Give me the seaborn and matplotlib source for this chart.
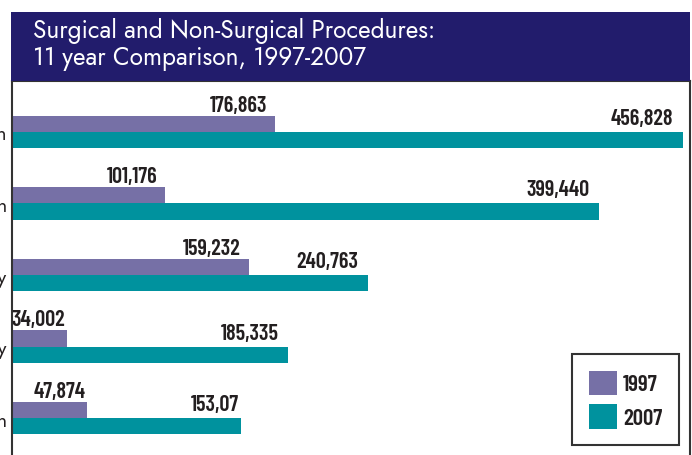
import matplotlib
matplotlib.use("Agg")
import matplotlib.pyplot as plt
from matplotlib.patches import Rectangle, Patch
import seaborn as sns
import pandas as pd

# ---- data ----
procedures = ["Liposuction", "Breast Augmentation", "Blepharoplasty",
              "Abdominoplasty", "Breast Reduction"]
years = ["1997", "2007"]
values_1997 = [176863, 101176, 159232, 34002, 47874]
values_2007 = [456828, 399440, 240763, 185335, 153087]
labels_1997 = ["176,863", "101,176", "159,232", "34,002", "47,874"]
labels_2007 = ["456,828", "399,440", "240,763", "185,335", "153,07"]
title_lines = ["Surgical and Non-Surgical Procedures:",
               "11 year Comparison, 1997-2007"]

# ---- style ----
PURPLE = "#7670a6"
TEAL = "#00929e"
NAVY = "#221c6c"
INK = "#231f20"
LINE = "#333333"
# gap (pixels) between the end of each bar and the right edge of its label
label_gap_1997 = [8, 7, 9, 2, 2]
label_gap_2007 = [10, 10, 10, 9, 2]

sns.set_theme(style="white")
plt.rcParams["font.family"] = ["DejaVu Sans"]
TITLE_FONT = ["Jost", "DejaVu Sans"]
NUM_FONT = ["Barlow Condensed", "DejaVu Sans"]

df = pd.DataFrame({
    "procedure": procedures * 2,
    "count": values_1997 + values_2007,
    "year": [years[0]] * len(procedures) + [years[1]] * len(procedures),
})

W, H = 692, 456
fig = plt.figure(figsize=(W / 100, H / 100), dpi=100)
fig.patch.set_facecolor("white")

ax_left, ax_right, ax_top = 12, 690, 82
ax = fig.add_axes([ax_left / W, 0, (ax_right - ax_left) / W, (H - ax_top) / H])

sns.barplot(data=df, y="procedure", x="count", hue="year", order=procedures,
            hue_order=years, palette=[PURPLE, TEAL], orient="h", width=0.45,
            saturation=1, legend=False, ax=ax, linewidth=0)

xmin, xmax = -3775, 461597
ax.set_xlim(xmin, xmax)
ax.set_ylim(4.517, -0.713)
px = (xmax - xmin) / (ax_right - ax_left)  # data units per pixel

# bars start just right of the spine
bars = list(ax.patches)
start = -4.5 * px
for p in bars:
    w = p.get_width()
    p.set_x(start)
    p.set_width(w - start)

# value labels
n = len(procedures)
bars_1997 = sorted(bars[:n], key=lambda p: p.get_y())
bars_2007 = sorted(bars[n:], key=lambda p: p.get_y())
for blist, labs, gaps, rise in [(bars_1997, labels_1997, label_gap_1997, 5),
                                (bars_2007, labels_2007, label_gap_2007, 8)]:
    for p, lab, g in zip(blist, labs, gaps):
        ax.annotate(lab, (p.get_x() + p.get_width(), p.get_y()), xytext=(-g, rise),
                    textcoords="offset pixels", ha="right", va="baseline",
                    fontsize=16, fontweight=600, family=NUM_FONT, color=INK)

ax.set_xlabel("")
ax.set_ylabel("")
ax.set_xticks([])
ax.tick_params(axis="y", length=0, pad=3.6, labelcolor=INK)
for t in ax.get_yticklabels():
    t.set_fontfamily(TITLE_FONT)
    t.set_fontsize(14)
for s in ["left", "right", "top"]:
    ax.spines[s].set_visible(True)
    ax.spines[s].set_color(LINE)
    ax.spines[s].set_linewidth(1.5)
ax.spines["bottom"].set_visible(False)

# title banner
fig.patches.append(Rectangle((11 / W, 1 - 82 / H), (690 - 11) / W, (82 - 13) / H,
                             transform=fig.transFigure, facecolor=NAVY,
                             edgecolor="none", zorder=0))
for txt, base in zip(title_lines, [37.5, 65]):
    fig.text(33 / W, 1 - base / H, txt, color="white", fontsize=17.5,
             fontweight=300, family=TITLE_FONT, va="baseline", ha="left")

# legend
handles = [Patch(facecolor=PURPLE, edgecolor="none"),
           Patch(facecolor=TEAL, edgecolor="none")]
leg = fig.legend(handles, years, loc="upper left",
                 bbox_to_anchor=(572 / W, 1 - 355 / H),
                 frameon=True, fancybox=False, framealpha=1,
                 handlelength=1.25, handleheight=1.25, handletextpad=0.25,
                 labelspacing=0.42, borderpad=0.72, borderaxespad=0,
                 prop={"family": NUM_FONT, "size": 16.5, "weight": 600})
leg.get_frame().set_edgecolor(LINE)
leg.get_frame().set_linewidth(1.5)
for t in leg.get_texts():
    t.set_color(INK)

fig.savefig("out.png", dpi=100)
